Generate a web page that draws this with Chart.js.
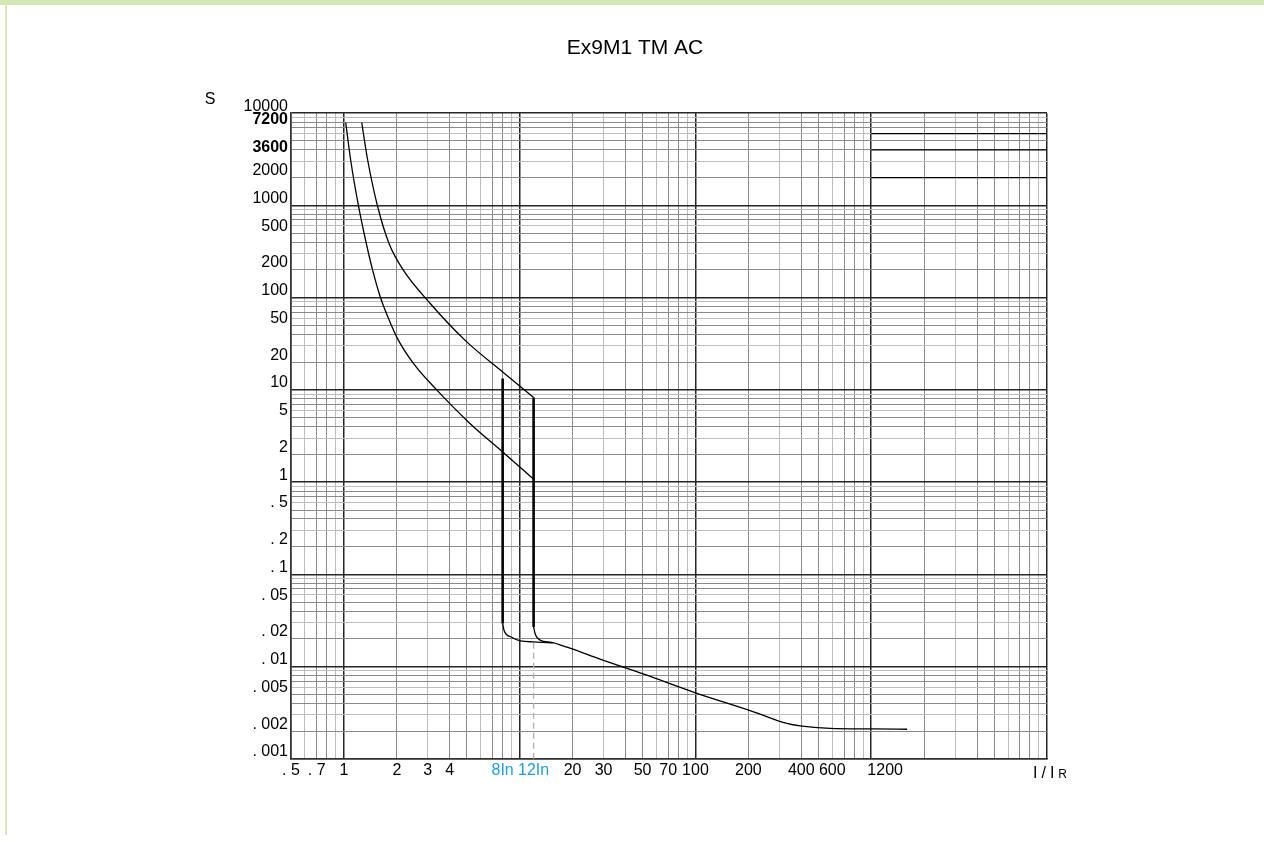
<!DOCTYPE html>
<html>
<head>
<meta charset="utf-8">
<title>Ex9M1 TM AC</title>
<script src="https://cdn.jsdelivr.net/npm/chart.js@4.4.1/dist/chart.umd.min.js"></script>
<style>
  html, body { margin: 0; padding: 0; background: #fff; }
  .band-top { position: absolute; left: 0; top: 0; width: 1264px; height: 5px; background: #d3e8b4; }
  .band-left { position: absolute; left: 5px; top: 0; width: 2px; height: 835px; background: #d3e8b4; }
  #wrap { position: absolute; left: 0; top: 0; width: 1264px; height: 842px; }
</style>
</head>
<body>
<div class="band-top"></div>
<div class="band-left"></div>
<div id="wrap"><canvas id="c"></canvas></div>
<script>
// 축 눈금 라벨
const xTickValues = [0.5, 0.7, 1, 2, 3, 4, 8, 12, 20, 30, 50, 70, 100, 200, 400, 600, 1200];
const xTickLabels = ['. 5', '. 7', '1', '2', '3', '4', '8In', '12In', '20', '30', '50', '70', '100', '200', '400', '600', '1200'];
const yTickValues = [10000, 7200, 3600, 2000, 1000, 500, 200, 100, 50, 20, 10, 5, 2, 1, 0.5, 0.2, 0.1, 0.05, 0.02, 0.01, 0.005, 0.002, 0.001];
const yTickLabels = ['10000', '7200', '3600', '2000', '1000', '500', '200', '100', '50', '20', '10', '5', '2', '1',
  '. 5', '. 2', '. 1', '. 05', '. 02', '. 01', '. 005', '. 002', '. 001'];

// 곡선 데이터 (I/IR, s)
const lowerCurveX = [1.024, 1.093, 1.208, 1.341, 1.457, 1.605, 1.781, 2.04, 2.504, 3.34, 5.21, 8, 12];
const lowerCurveY = [7900, 3090, 1006, 387, 199, 103.9, 61.5, 34.7, 19.04, 10.2, 4.34, 2.13, 1.08];
const upperCurveX = [1.263, 1.366, 1.549, 1.806, 2.178, 3.09, 5.0, 8, 12];
const upperCurveY = [7900, 3090, 1006, 387, 199, 87.2, 33.2, 15.7, 8.3];
const trip8X = [8, 8];
const trip8Y = [13.3, 0.0295];
const trip12X = [12, 12];
const trip12Y = [8.3, 0.027];
const knee8X = [8, 8.14, 8.89, 10.1, 12.05, 15.6];
const knee8Y = [0.0295, 0.0249, 0.0211, 0.0191, 0.0186, 0.0182];
const knee12X = [12, 12.3, 13.1, 14.4, 15.6];
const knee12Y = [0.027, 0.0222, 0.0194, 0.0186, 0.0182];
const tailX = [15.6, 19.5, 28.9, 50.9, 100, 214, 331, 395, 584, 1026, 1600];
const tailY = [0.0182, 0.0158, 0.012, 0.0083, 0.00522, 0.00325, 0.00243, 0.00228, 0.00215, 0.00212, 0.0021];
const dashX = [12, 12];
const dashY = [0.0182, 0.001];
const hourLinesX = [1000, 10000];
const hourLinesY = [6000, 4000, 2000];

const key = v => Number(v.toPrecision(6));
const pts = (xs, ys) => xs.map((x, i) => ({ x, y: ys[i] }));

const decadeGrid = (fromExp, toExp, min, max) => {
  const out = [];
  for (let e = fromExp; e <= toExp; e++)
    for (let m = 1; m <= 9; m++) {
      const v = key(m * Math.pow(10, e));
      if (v >= min && v <= max) out.push(v);
    }
  out.push(max);
  return out;
};
const xGrid = decadeGrid(-1, 3, 0.5, 10000);
const yGrid = decadeGrid(-3, 3, 0.001, 10000);

const mergeTicks = (grid, labels) =>
  Array.from(new Set([...grid, ...labels.map(key)])).sort((a, b) => a - b);

const gridStyle = (grid) => (ctx) => {
  const v = key(ctx.tick.value);
  if (!grid.includes(v)) return { color: 'rgba(0,0,0,0)', width: 1 };
  const m = key(v / Math.pow(10, Math.floor(Math.log10(v) + 1e-9)));
  if (m === 1) return { color: '#262626', width: 1.5 };
  if (m === 3 || m === 6 || m === 9) return { color: '#bdbdbd', width: 1 };
  return { color: '#8a8a8a', width: 1 };
};
const xStyle = gridStyle(xGrid);
const yStyle = gridStyle(yGrid);

const labelFor = (values, labels) => (value) => {
  const i = values.findIndex(t => key(t) === key(value));
  return i < 0 ? '' : labels[i];
};

const FONT = 'Liberation Sans, Arial, sans-serif';

const thin = (data, extra = {}) => ({
  data, showLine: true, pointRadius: 0, borderColor: '#000', borderWidth: 1.3,
  cubicInterpolationMode: 'monotone', ...extra
});
const straight = (data, extra = {}) => thin(data, { cubicInterpolationMode: 'default', tension: 0, ...extra });

const datasets = [
  thin(pts(lowerCurveX, lowerCurveY)),
  thin(pts(upperCurveX, upperCurveY)),
  straight(pts(trip8X, trip8Y), { borderWidth: 2.6 }),
  straight(pts(trip12X, trip12Y), { borderWidth: 2.6 }),
  thin(pts(knee8X, knee8Y)),
  thin(pts(knee12X, knee12Y)),
  thin(pts(tailX, tailY)),
  straight(pts(dashX, dashY), { borderColor: '#b0b0b0', borderDash: [6, 4] }),
  ...hourLinesY.map(y => straight(pts(hourLinesX, [y, y])))
];

// 축 제목: S, I/IR
const axisText = {
  id: 'axisText',
  afterDraw(chart) {
    const { ctx, chartArea: a } = chart;
    ctx.save();
    ctx.fillStyle = '#000';
    ctx.textBaseline = 'middle';
    ctx.textAlign = 'center';
    ctx.font = '16px ' + FONT;
    ctx.fillText('S', a.left - 81, a.top - 14);
    ctx.textAlign = 'left';
    ctx.letterSpacing = '4px';
    ctx.fillText('I/I', a.right - 14, a.bottom + 15);
    const w = ctx.measureText('I/I').width;
    ctx.letterSpacing = '0px';
    ctx.font = '12px ' + FONT;
    ctx.fillText('R', a.right - 14 + w, a.bottom + 16);
    ctx.restore();
  }
};

new Chart(document.getElementById('c'), {
  type: 'scatter',
  data: { datasets },
  options: {
    responsive: true, maintainAspectRatio: false, animation: false,
    layout: { padding: { left: 223, right: 217, top: 6, bottom: 43 } },
    plugins: {
      legend: { display: false },
      tooltip: { enabled: false },
      title: {
        display: true, text: 'Ex9M1 TM AC', color: '#000',
        font: { family: FONT, size: 21, weight: 'normal' },
        padding: { top: 30, bottom: 52 }
      }
    },
    scales: {
      x: {
        type: 'logarithmic', min: 0.5, max: 10000,
        afterBuildTicks: s => { s.ticks = mergeTicks(xGrid, xTickValues).map(value => ({ value })); },
        afterFit: s => { s.height = 40; },
        border: { display: true, color: '#333', width: 1.5 },
        grid: { drawTicks: false, color: c => xStyle(c).color, lineWidth: c => xStyle(c).width },
        ticks: {
          autoSkip: false, maxRotation: 0, minRotation: 0, padding: 2,
          callback: labelFor(xTickValues, xTickLabels),
          color: c => (c.tick && (c.tick.value === 8 || c.tick.value === 12)) ? '#1ea0e6' : '#000',
          font: { family: FONT, size: 16 }
        }
      },
      y: {
        type: 'logarithmic', min: 0.001, max: 10000,
        afterBuildTicks: s => { s.ticks = mergeTicks(yGrid, yTickValues).map(value => ({ value })); },
        afterFit: s => { s.width = 68; },
        border: { display: true, color: '#333', width: 1.5 },
        grid: { drawTicks: false, color: c => yStyle(c).color, lineWidth: c => yStyle(c).width },
        ticks: {
          autoSkip: false, padding: 3, labelOffset: -7,
          callback: labelFor(yTickValues, yTickLabels),
          color: '#000',
          font: c => ({ family: FONT, size: 16,
            weight: (c.tick && (c.tick.value === 7200 || c.tick.value === 3600)) ? 'bold' : 'normal' })
        }
      }
    }
  },
  plugins: [axisText]
});
</script>
</body>
</html>
